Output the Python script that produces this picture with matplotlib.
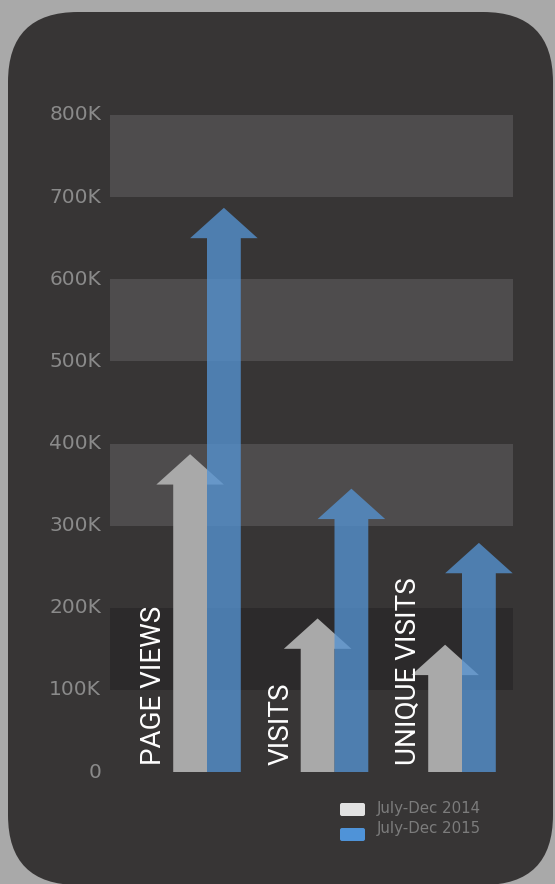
import matplotlib
matplotlib.use("Agg")
import matplotlib.pyplot as plt
from matplotlib.patches import FancyBboxPatch, Polygon
from matplotlib import font_manager

# data (thousands)
categories = ["PAGE VIEWS", "VISITS", "UNIQUE VISITS"]
visits_2014 = [387, 187, 155]
visits_2015 = [687, 345, 279]
series_labels = ["July-Dec 2014", "July-Dec 2015"]
y_ticks = [0, 100, 200, 300, 400, 500, 600, 700, 800]
y_tick_labels = ["0", "100K", "200K", "300K", "400K", "500K", "600K", "700K", "800K"]
light_bands = [(700, 800), (500, 600), (300, 400)]
dark_bands = [(100, 200)]

W, H = 555, 884
BG = "#a9a9a9"
PANEL = "#373535"
GRAY = "#a9a9a9"
BLUE = "#5593d2"

names = {f.name for f in font_manager.fontManager.ttflist}
label_font = "Liberation Sans Narrow" if "Liberation Sans Narrow" in names else "Roboto"
label_size = 23 if label_font == "Liberation Sans Narrow" else 20

fig = plt.figure(figsize=(W / 100, H / 100), dpi=100, facecolor=BG)

# background panel in pixel coordinates
bg = fig.add_axes([0, 0, 1, 1])
bg.set_xlim(0, W)
bg.set_ylim(H, 0)
bg.axis("off")
bg.add_patch(FancyBboxPatch((8, 12), 545, 873,
                            boxstyle="round,pad=0,rounding_size=70",
                            facecolor=PANEL, edgecolor="none"))

# legend
bg.add_patch(FancyBboxPatch((340, 803), 25, 13, boxstyle="round,pad=0,rounding_size=2",
                            facecolor="#e2e2e2", edgecolor="none"))
bg.add_patch(FancyBboxPatch((340, 828), 25, 13, boxstyle="round,pad=0,rounding_size=2",
                            facecolor="#4f93d8", edgecolor="none"))
bg.text(377, 809, series_labels[0], color="#7c7c7c", fontsize=10.8, va="center", ha="left")
bg.text(377, 829, series_labels[1], color="#7c7c7c", fontsize=10.8, va="center", ha="left")

# chart axes: y 0 at px 772, 800K at px 115; x px 110..513
unit = 127.5
x_lo = (110 - 207) / unit
x_hi = (513 - 207) / unit
ax = fig.add_axes([110 / W, (H - 772) / H, (513 - 110) / W, (772 - 115) / H])
ax.set_xlim(x_lo, x_hi)
ax.set_ylim(0, 800)
ax.axis("off")

for lo, hi in light_bands:
    ax.axhspan(lo, hi, color="#4e4c4d", zorder=1, lw=0)
for lo, hi in dark_bands:
    ax.axhspan(lo, hi, color="#2c2a2b", zorder=1, lw=0)

shaft_w = 0.265
head_half = 0.265
head_h = 37


def arrow(x_left, value, color, alpha, z):
    xc = x_left + shaft_w / 2
    base = value - head_h
    pts = [(x_left, 0), (x_left + shaft_w, 0), (x_left + shaft_w, base),
           (xc + head_half, base), (xc, value), (xc - head_half, base),
           (x_left, base)]
    ax.add_patch(Polygon(pts, closed=True, facecolor=color, edgecolor="none",
                         alpha=alpha, zorder=z))


for i, (v1, v2) in enumerate(zip(visits_2014, visits_2015)):
    arrow(i - shaft_w, v1, GRAY, 1.0, 3)
    arrow(i, v2, BLUE, 0.78, 4)
    ax.text(i - 0.42, 8, categories[i], rotation=90, ha="center", va="bottom",
            color="white", fontsize=label_size, family=label_font, zorder=5)

# y tick labels
for t, lab in zip(y_ticks, y_tick_labels):
    ax.text(x_lo - 0.07, t, lab, ha="right", va="center", color="#8a8a8a",
            fontsize=14.5, clip_on=False)

fig.savefig("out.png", dpi=100, facecolor=BG)
